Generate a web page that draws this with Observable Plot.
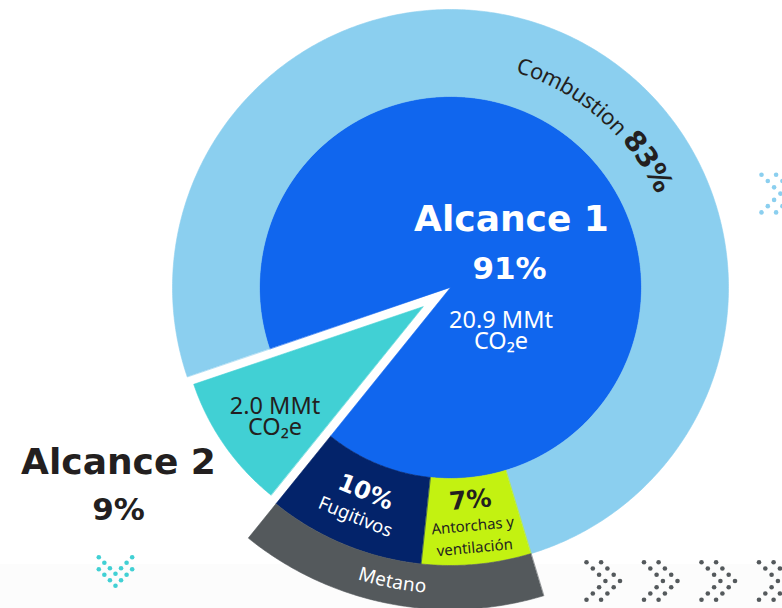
<!DOCTYPE html>
<html><head><meta charset="utf-8">
<script src="https://cdn.jsdelivr.net/npm/d3@7"></script>
<script src="https://cdn.jsdelivr.net/npm/@observablehq/plot@0.6"></script>
<style>
html,body{margin:0;padding:0;background:#fff;}
#wrap{position:relative;width:782px;height:608px;overflow:hidden;
  background:linear-gradient(to bottom,#fff 0,#fff 564px,#fcfcfc 564px);}
#wrap svg{display:block;}
</style></head><body><div id="wrap"></div>
<script>
// ---------------- data ----------------
const scopes = ["Alcance 1", "Alcance 2"];
const scopeShares = [91, 9];            // % of total emissions
const scopeEmissions = [20.9, 2.0];     // MMt CO2e
const sources = ["Combustion", "Antorchas y ventilación", "Fugitivos"];
const sourceShares = [83, 7, 10];       // % of Alcance 1
const sourceLabels = ["Combustion", "Antorchas y\nventilación", "Fugitivos"];
const methaneSources = ["Antorchas y ventilación", "Fugitivos"];
const methaneLabel = "Metano";
const unitLabel = "MMt";

// ---------------- styles / layout ----------------
const W = 782, H = 608;
const CX = 450, CY = 287;              // pie centre inside the frame
const START = 251.3;                   // degrees clockwise from 12 o'clock
const R_IN = 191, R_OUT = 278, R_MET = 322, R_TEAL = 242, TEAL_SHIFT = 33.6;
const colorKeys = ["Alcance 1", "Alcance 2", "Combustion", "Antorchas y ventilación", "Fugitivos", "Metano"];
const colorVals = ["#1066ee", "#41d0d4", "#8bcfef", "#c3f211", "#03236a", "#54595c"];
const DARK = "#231f20";
const HEAD = "DejaVu Sans";
const BODY = "Noto Sans";

const rad = d => d * Math.PI / 180;
const pt = (a, r) => [r * Math.sin(rad(a)), r * Math.cos(rad(a))];

function arcPoly(key, a0, a1, r0, r1, dx = 0, dy = 0) {
  const n = Math.max(2, Math.ceil(Math.abs(a1 - a0) / 0.5));
  const pts = [];
  for (let i = 0; i <= n; i++) { const [x, y] = pt(a0 + (a1 - a0) * i / n, r1); pts.push({key, x: x + dx, y: y + dy}); }
  if (r0 > 0) for (let i = n; i >= 0; i--) { const [x, y] = pt(a0 + (a1 - a0) * i / n, r0); pts.push({key, x: x + dx, y: y + dy}); }
  else pts.push({key, x: dx, y: dy});
  return pts;
}

// angles from the values
const totalScope = d3.sum(scopeShares);
const scopeSpan = scopeShares.map(v => v / totalScope * 360);
const s1 = [START, START + scopeSpan[0]];
const s2 = [s1[1], s1[1] + scopeSpan[1]];
const totalSrc = d3.sum(sourceShares);
let acc = s1[0];
const srcArcs = sources.map((s, i) => {
  const a0 = acc; acc += sourceShares[i] / totalSrc * scopeSpan[0];
  return {key: s, a0, a1: acc, mid: (a0 + acc) / 2, share: sourceShares[i], label: sourceLabels[i]};
});
const metArcs = srcArcs.filter(d => methaneSources.includes(d.key));
const met = [d3.min(metArcs, d => d.a0), d3.max(metArcs, d => d.a1)];
const tealMid = (s2[0] + s2[1]) / 2;
const [tdx, tdy] = pt(tealMid, TEAL_SHIFT);

const polys = [
  ...arcPoly(scopes[0], s1[0], s1[1], 0, R_IN),
  ...srcArcs.flatMap(d => arcPoly(d.key, d.a0, d.a1, R_IN, R_OUT)),
  ...arcPoly(methaneLabel, met[0], met[1], R_OUT, R_MET),
  ...arcPoly(scopes[1], s2[0], s2[1], 0, R_TEAL, tdx, tdy)
];

// text measuring for curved labels
const ctx = document.createElement("canvas").getContext("2d");
const measure = (s, font) => { ctx.font = font; return ctx.measureText(s).width; };
function curved(str, font, r, aStart, dir) {
  const out = []; let s = 0;
  for (const ch of str) {
    const w = measure(ch, font);
    const a = aStart + dir * (s + w / 2) / r * 180 / Math.PI;
    const [x, y] = pt(a, r);
    out.push({x, y, text: ch, rotate: dir > 0 ? a : a - 180});
    s += w;
  }
  return {chars: out, end: aStart + dir * s / r * 180 / Math.PI, width: s};
}
// block of lines rotated around a centre (offsets d along the local "down")
function block(lines, cx, cy, rho) {
  return lines.map(([text, d]) => ({
    text, x: cx - Math.sin(rad(rho)) * d, y: cy - Math.cos(rad(rho)) * d, rotate: rho
  }));
}

// Combustion curved label
const combFont = `400 22px '${BODY}'`;
const combPctFont = `700 28px '${HEAD}'`;
const comb = curved(srcArcs[0].key + " ", combFont, 232, 16.8, 1);
const combPct = curved(`${srcArcs[0].share}%`, combPctFont, 235, comb.end, 1);

// Metano curved label
const metFont = `400 19px '${BODY}'`;
const metW = measure(methaneLabel, metFont);
const metMid = 191.2, metR = 300;
const metText = curved(methaneLabel, metFont, metR, metMid + metW / 2 / metR * 180 / Math.PI, -1);

// labels of the small source sectors
const rMid = (R_IN + R_OUT) / 2;
const fug = srcArcs[2], ant = srcArcs[1];
const [fx, fy] = pt(fug.mid, rMid);
const [ax, ay] = pt(ant.mid, rMid);
const fugPct = block([[`${fug.share}%`, -13]], fx, fy, fug.mid - 180);
const fugLbl = block([[fug.label, 14]], fx, fy, fug.mid - 180);
const antPct = block([[`${ant.share}%`, -21]], ax, ay, ant.mid - 180);
const antLbl = block(ant.label.split("\n").map((t, i) => [t, 5 + i * 22]), ax, ay, ant.mid - 180);

const co2 = "CO\u2082e";
const fmt = d3.format(".1f");

// decorative dot chevrons
const chevrons = [
  {x: 586, y: 561.7, dir: "right", color: "#54595c"},
  {x: 643.5, y: 561.7, dir: "right", color: "#54595c"},
  {x: 701, y: 561.7, dir: "right", color: "#54595c"},
  {x: 758.5, y: 561.7, dir: "right", color: "#54595c"},
  {x: 761, y: 174.3, dir: "right", color: "#8bcfef"},
  {x: 98.3, y: 556.7, dir: "down", color: "#41d0d4"}
];
const dots = chevrons.flatMap(c => d3.range(2).flatMap(copy => d3.range(7).map(k => {
  const t = 3 - Math.abs(k - 3);
  const px = c.dir === "right" ? c.x + 6.3 * t + copy * 14.6 : c.x + 5.56 * k;
  const py = c.dir === "right" ? c.y + 6.27 * k : c.y + 5.5 * t + copy * 12;
  return {x: px - CX, y: CY - py, color: c.color};
})));

const txt = (data, o) => Plot.text(data, {x: "x", y: "y", text: "text", textAnchor: "middle", lineAnchor: "middle", ...o});

const chart = Plot.plot({
  width: W, height: H, margin: 0,
  x: {domain: [-CX, W - CX], axis: null},
  y: {domain: [CY - H, CY], axis: null},
  color: {domain: colorKeys, range: colorVals},
  style: {background: "transparent", overflow: "visible"},
  marks: [
    Plot.line(polys, {x: "x", y: "y", z: "key", fill: "key", stroke: "key", strokeWidth: 0.6, curve: "linear-closed"}),
    Plot.dot(dots, {x: "x", y: "y", r: 2.3, fill: "color", stroke: null}),
    // Alcance 1
    txt([{x: 61, y: 68, text: scopes[0]}], {fill: "#fff", fontFamily: HEAD, fontWeight: 700, fontSize: 36}),
    txt([{x: 59, y: 18, text: `${scopeShares[0]}%`}], {fill: "#fff", fontFamily: HEAD, fontWeight: 700, fontSize: 31}),
    txt([{x: 50.5, y: -44, text: `${fmt(scopeEmissions[0])} ${unitLabel}\n${co2}`}], {fill: "#fff", fontFamily: BODY, fontSize: 23.5, lineHeight: 0.93}),
    // Alcance 2
    txt([{x: -332, y: -175, text: scopes[1]}], {fill: DARK, fontFamily: HEAD, fontWeight: 700, fontSize: 36}),
    txt([{x: -332, y: -223, text: `${scopeShares[1]}%`}], {fill: DARK, fontFamily: HEAD, fontWeight: 700, fontSize: 31}),
    txt([{x: -175.5, y: -130, text: `${fmt(scopeEmissions[1])} ${unitLabel}\n${co2}`}], {fill: DARK, fontFamily: BODY, fontSize: 23.5, lineHeight: 0.93}),
    // Combustion curved
    txt(comb.chars, {rotate: "rotate", fill: DARK, fontFamily: BODY, fontSize: 22}),
    txt(combPct.chars, {rotate: "rotate", fill: DARK, fontFamily: HEAD, fontWeight: 700, fontSize: 28}),
    // Fugitivos
    txt(fugPct, {rotate: "rotate", fill: "#fff", fontFamily: HEAD, fontWeight: 700, fontSize: 24}),
    txt(fugLbl, {rotate: "rotate", fill: "#fff", fontFamily: BODY, fontSize: 18.5}),
    // Antorchas
    txt(antPct, {rotate: "rotate", fill: DARK, fontFamily: HEAD, fontWeight: 700, fontSize: 25}),
    txt(antLbl, {rotate: "rotate", fill: DARK, fontFamily: BODY, fontSize: 15}),
    // Metano curved
    txt(metText.chars, {rotate: "rotate", fill: "#fff", fontFamily: BODY, fontSize: 19})
  ]
});
document.getElementById("wrap").appendChild(chart);
</script>
</body></html>
